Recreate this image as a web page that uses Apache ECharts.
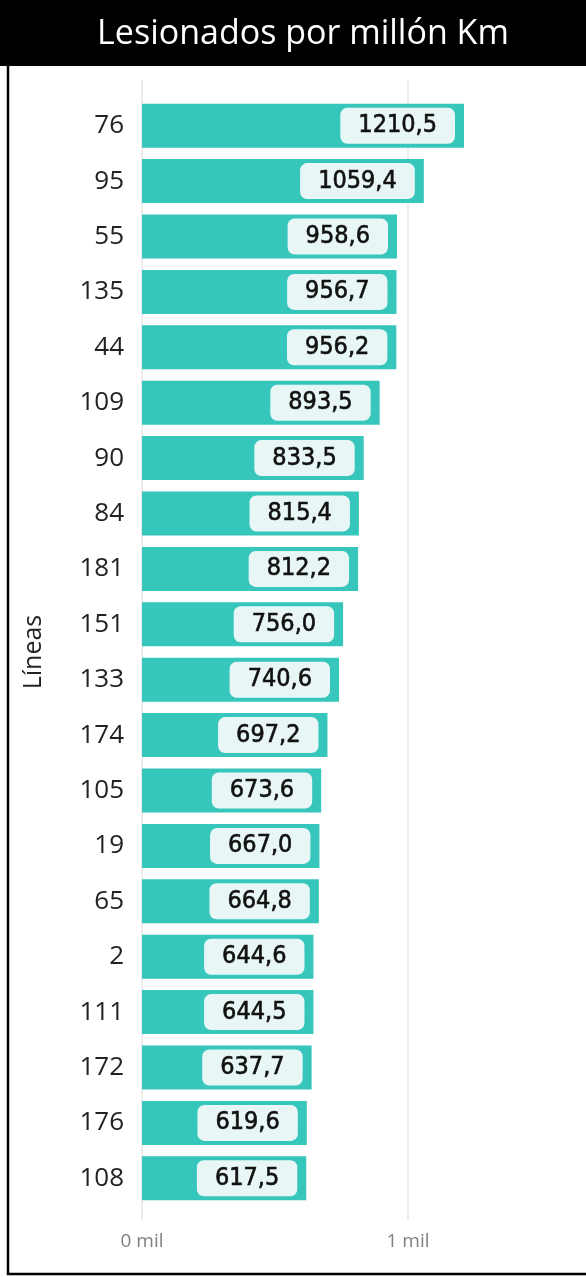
<!DOCTYPE html>
<html>
<head>
<meta charset="utf-8">
<script src="https://cdn.jsdelivr.net/npm/echarts@6/dist/echarts.min.js"></script>
<style>
  html, body { margin: 0; padding: 0; background: #fff; }
  #chart { width: 586px; height: 1277px; }
</style>
</head>
<body>
<div id="chart"></div>
<script>
// data
const lineas = ['76', '95', '55', '135', '44', '109', '90', '84', '181', '151',
                '133', '174', '105', '19', '65', '2', '111', '172', '176', '108'];
const lesionados = [1210.5, 1059.4, 958.6, 956.7, 956.2, 893.5, 833.5, 815.4, 812.2, 756.0,
                    740.6, 697.2, 673.6, 667.0, 664.8, 644.6, 644.5, 637.7, 619.6, 617.5];
const tickLabels = { 0: '0 mil', 1000: '1 mil' };

const chart = echarts.init(document.getElementById('chart'));
const barColor = '#37c6bc';
const axisMax = 1600;
const font = '"Open Sans", "Noto Sans", sans-serif';

const option = {
  animation: false,
  graphic: [
    { type: 'rect', shape: { x: 0, y: 0, width: 586, height: 66 }, style: { fill: '#000' }, z: 0 },
    { type: 'rect', shape: { x: 8, y: -2, width: 590, height: 1276 },
      style: { fill: 'none', stroke: '#000', lineWidth: 2.5 }, z: 10 },
    { type: 'text', x: 303, y: 34, z: 11,
      style: { text: 'Lesionados por millón Km', fill: '#fff', font: '34px ' + font,
               align: 'center', verticalAlign: 'middle' } }
  ],
  grid: [
    { left: 142, right: 586 - 142 - axisMax * 0.266, top: 98, bottom: 1277 - 1206 },
    { left: 142, right: 586 - 142 - axisMax * 0.266, top: 80, bottom: 1277 - 1220 }
  ],
  xAxis: [
    { gridIndex: 0, type: 'value', min: 0, max: axisMax, interval: 1000, show: false },
    { gridIndex: 1, type: 'value', min: 0, max: axisMax, interval: 1000,
      axisLine: { show: false }, axisTick: { show: false },
      splitLine: { show: true, showMaxLine: false, lineStyle: { color: '#e6e6e6', width: 1.5 } },
      axisLabel: { color: '#808080', fontSize: 19, margin: 12, fontFamily: font,
                   formatter: v => tickLabels[v] !== undefined ? tickLabels[v] : '' } }
  ],
  yAxis: [
    { gridIndex: 0, type: 'category', data: lineas, inverse: true,
      axisLine: { show: false }, axisTick: { show: false },
      axisLabel: { color: '#222', fontSize: 26, margin: 18, fontFamily: font },
      name: 'Líneas', nameLocation: 'middle', nameGap: 96, nameRotate: 90,
      nameTextStyle: { color: '#222', fontSize: 25, fontFamily: font } },
    { gridIndex: 1, type: 'value', show: false }
  ],
  series: [{
    type: 'bar',
    xAxisIndex: 0,
    yAxisIndex: 0,
    data: lesionados,
    barWidth: 44,
    itemStyle: { color: barColor },
    label: {
      show: true,
      position: 'insideRight',
      distance: 9,
      formatter: p => p.value.toFixed(1).replace('.', ','),
      color: '#111',
      textBorderColor: '#111',
      textBorderWidth: 0.6,
      fontSize: 25,
      fontFamily: '"DejaVu Sans Condensed", "Roboto", sans-serif',
      backgroundColor: '#e8f7f6',
      borderRadius: 7,
      padding: [6, 18, 5, 18]
    }
  }]
};

chart.setOption(option);
</script>
</body>
</html>
